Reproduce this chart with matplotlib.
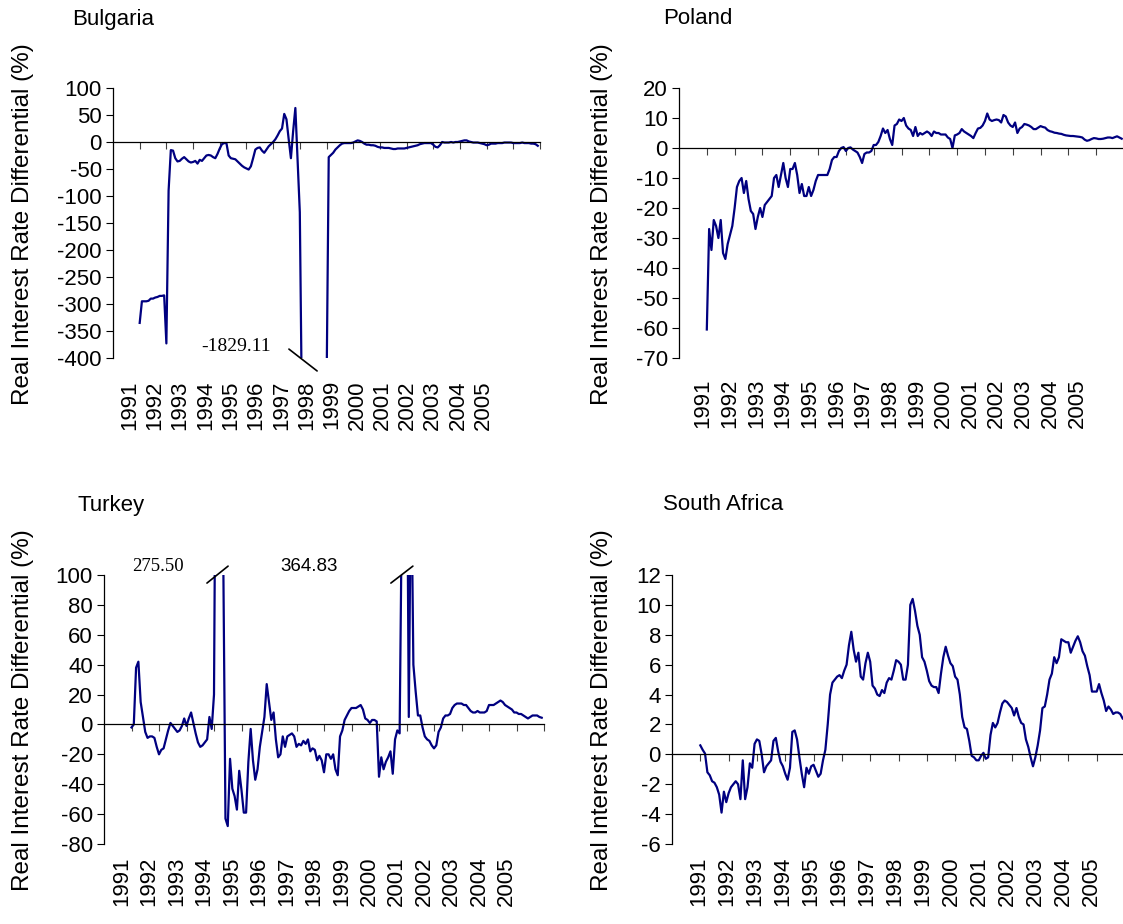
import numpy as np
import matplotlib
matplotlib.use("Agg")
import matplotlib.pyplot as plt

plt.rcParams['font.family'] = ['Liberation Sans', 'DejaVu Sans']
plt.rcParams['axes.unicode_minus'] = False

# ------------------------------------------------------------
# Monthly real interest rate differentials (%), Jan 1991 - Dec 2005
# ------------------------------------------------------------
years = list(range(1991, 2006))

bulgaria = [
    -335, -295, -295, -295, -294, -290, -290, -288, -287, -285, -285, -284,
    -373, -90, -15, -16, -30, -36, -35, -31, -28, -32, -36, -38,
    -37, -35, -40, -33, -35, -30, -25, -24, -25, -28, -30, -22,
    -12, -4, -2, -2, -25, -30, -31, -32, -36, -40, -44, -47,
    -49, -51, -45, -30, -14, -11, -10, -16, -20, -14, -8, -4,
    0, 5, 12, 20, 25, 52, 42, 5, -30, 20, 63, -35,
    -130, -520, -1829.11, -1400, -1100, -900, -780, -700, -640, -590, -550, -510,
    -470, -28, -24, -20, -14, -10, -6, -3, -2, -2, -2, -2,
    -1, 1, 3, 2, 0, -3, -5, -5, -6, -6, -7, -9,
    -10, -10, -11, -11, -11, -12, -13, -13, -12, -12, -12, -12,
    -11, -10, -9, -8, -7, -6, -4, -3, -2, -2, -2, -2,
    -5, -9, -10, -6, 0, -1, -1, -1, 0, -1, 0, 0,
    1, 2, 3, 3, 1, 0, -1, -1, -1, -2, -3, -4,
    -6, -5, -3, -3, -3, -2, -2, -2, -1, -1, -1, -1,
    -2, -2, -2, -2, -1, -2, -2, -2, -3, -3, -4, -7,
]

poland = [
    -60.5, -27, -34, -24, -26, -30, -24, -35, -37, -32, -29, -26,
    -20, -13, -11, -10, -15, -11, -17, -21, -22, -27, -23, -20,
    -23, -19, -18, -17, -16, -10, -9, -13, -9, -5, -10, -13,
    -7, -7, -5, -9, -15, -12, -16, -16, -13, -16, -14, -11,
    -9, -9, -9, -9, -9, -7, -4, -3, -3, -1, 0, 0.3,
    -1, 0, 0.2, -0.5, -1, -1.5, -3, -5, -2, -1.5, -1.5, -1,
    1, 1, 2, 4, 6.5, 5, 6, 3, 1, 7.5, 8, 9.5,
    9, 10, 7.5, 6.5, 6, 4, 7, 4, 5, 4.5, 5, 5.5,
    5, 4, 5.5, 5, 5, 4.5, 4.5, 4.5, 3.5, 3, 0, 4.2,
    4.5, 5, 6.3, 5.5, 5, 4.5, 4, 3.3, 5, 6.5, 6.7, 7.5,
    9, 11.5, 9.5, 9, 9.3, 9.5, 9.3, 8.5, 11, 10.5, 8.5, 7.5,
    7, 8.5, 5, 6.5, 7, 8, 7.8, 7.5, 7, 6.3, 6.3, 6.8,
    7.3, 7, 6.8, 6, 5.6, 5.4, 5.1, 5, 4.8, 4.7, 4.4, 4.2,
    4.1, 4, 4, 3.9, 3.8, 3.7, 3.5, 2.8, 2.4, 2.6, 3, 3.3,
    3.2, 3, 3, 3.1, 3.3, 3.5, 3.5, 3.3, 3.6, 3.9, 3.5, 3.1,
]

turkey = [
    -2, 0, 38, 42, 15, 5, -5, -9, -8, -8, -9, -15,
    -20, -17, -16, -10, -4, 1, -1, -3, -5, -4, -1, 4,
    -1, 4, 8, 1, -6, -12, -15, -14, -12, -10, 5, -3,
    20, 275.50, 200, 160, 120, -63, -68, -23, -43, -48, -57, -31,
    -44, -59, -59, -25, -3, -24, -37, -30, -15, -5, 5, 27,
    15, 3, 8, -10, -22, -20, -8, -15, -8, -7, -6, -8,
    -15, -13, -14, -11, -13, -10, -18, -16, -17, -24, -21, -24,
    -32, -20, -20, -23, -20, -30, -34, -8, -4, 3, 6, 9,
    11, 11, 11, 12, 13, 10, 4, 3, 1, 3, 3, 2,
    -35, -22, -30, -25, -22, -18, -33, -10, -4, -6, 150, 364.83,
    250, 5, 180, 40, 22, 6, 6, -2, -8, -10, -11, -14,
    -16, -14, -5, -2, 4, 6, 6, 7, 11, 13, 14, 14,
    14, 13, 13, 11, 9, 8, 8, 9, 8, 8, 8, 9,
    13, 13, 13, 14, 15, 16, 15, 13, 12, 11, 10, 8,
    8, 7, 7, 6, 5, 4, 5, 6, 6, 6, 5, 4.5,
]

south_africa = [
    0.6, 0.3, 0.05, -1.2, -1.4, -1.8, -1.9, -2.2, -2.7, -3.9, -2.5, -3.2,
    -2.6, -2.2, -2.0, -1.8, -2.0, -3.0, -0.4, -3.0, -2.2, -0.6, -0.9, 0.7,
    1.0, 0.9, 0.0, -1.2, -0.8, -0.6, -0.4, 0.9, 1.1, 0.2, -0.5, -0.8,
    -1.3, -1.7, -0.9, 1.5, 1.6, 1.0, -0.2, -1.3, -2.2, -0.9, -1.3, -0.8,
    -0.7, -1.1, -1.5, -1.3, -0.4, 0.3, 2.0, 4.0, 4.8, 5.0, 5.2, 5.3,
    5.1, 5.6, 6.0, 7.3, 8.2, 7.0, 6.2, 6.8, 5.2, 5.0, 6.1, 6.8,
    6.2, 4.6, 4.4, 4.0, 3.9, 4.3, 4.1, 4.8, 5.1, 5.0, 5.6, 6.3,
    6.2, 6.0, 5.0, 5.0, 6.0, 10.0, 10.4, 9.6, 8.6, 8.0, 6.5, 6.2,
    5.6, 4.9, 4.6, 4.5, 4.5, 4.1, 5.4, 6.5, 7.2, 6.6, 6.1, 5.9,
    5.2, 5.0, 4.0, 2.5, 1.8, 1.7, 0.9, -0.1, -0.2, -0.4, -0.4, -0.1,
    0.1, -0.3, -0.2, 1.3, 2.1, 1.8, 2.1, 2.8, 3.4, 3.6, 3.5, 3.3,
    3.1, 2.6, 3.1, 2.5, 2.1, 2.0, 1.0, 0.5, -0.2, -0.8, -0.2, 0.6,
    1.6, 3.1, 3.2, 4.0, 5.0, 5.4, 6.5, 6.1, 6.5, 7.7, 7.6, 7.5,
    7.5, 6.8, 7.2, 7.6, 7.9, 7.5, 6.9, 6.6, 5.9, 5.3, 4.2, 4.2,
    4.2, 4.7, 4.1, 3.6, 2.9, 3.2, 3.0, 2.7, 2.8, 2.8, 2.7, 2.4,
]

LINE_COLOR = '#000080'
YLABEL = 'Real Interest Rate Differential (%)'
W, H = 1123, 924


def px_box(left, top, right, bottom):
    return [left / W, 1 - bottom / H, (right - left) / W, (bottom - top) / H]


def draw_panel(ax, values, ylo, yhi, ystep, lab_start, lab_step, lab_pad):
    months = np.arange(len(values))
    ax.plot(months, values, color=LINE_COLOR, lw=1.6, solid_joinstyle='round')

    ax.set_xlim(-12, 180)
    ax.set_ylim(ylo, yhi)
    yt = np.arange(ylo, yhi + ystep / 2, ystep)
    ax.set_yticks(yt, labels=[f"{v:g}" for v in yt])
    ax.tick_params(axis='y', direction='out', length=5, width=0.8, pad=3,
                   labelsize=16, colors='black')

    # category axis crosses at zero, ticks mark year boundaries
    for s in ['top', 'right']:
        ax.spines[s].set_visible(False)
    ax.spines['bottom'].set_position(('data', 0))
    ax.spines['bottom'].set_linewidth(0.9)
    ax.spines['left'].set_linewidth(0.9)
    ax.set_xticks(np.arange(0, 181, 12))
    ax.tick_params(axis='x', direction='out', length=5, width=0.8,
                   color='#404040', labelbottom=False)

    # year labels sit under the plot area
    sec = ax.secondary_xaxis('bottom')
    sec.set_xticks([lab_start + i * lab_step for i in range(len(years))],
                   labels=[str(y) for y in years])
    sec.tick_params(length=0, pad=lab_pad, labelsize=16, labelrotation=90)
    sec.spines['bottom'].set_visible(False)


fig = plt.figure(figsize=(W / 100, H / 100), dpi=100)

ax_bg = fig.add_axes(px_box(113, 88, 540, 358))
ax_pl = fig.add_axes(px_box(679, 88, 1124, 358))
ax_tr = fig.add_axes(px_box(104, 575, 544, 844))
ax_sa = fig.add_axes(px_box(672, 575, 1125, 844))

draw_panel(ax_bg, bulgaria, -400, 100, 50, -4.5, 11.36, 16)
draw_panel(ax_pl, poland, -70, 20, 10, -1.7, 11.53, 15)
draw_panel(ax_tr, turkey, -80, 100, 20, -4.4, 12.0, 9)
draw_panel(ax_sa, south_africa, -6, 12, 2, -0.8, 11.9, 9)

# titles and axis titles
for (tx, ty, name) in [(72, 19, 'Bulgaria'), (663, 19, 'Poland'),
                       (77, 505, 'Turkey'), (663, 505, 'South Africa')]:
    fig.text(tx / W, 1 - ty / H, name, fontsize=16, ha='left', va='center')

for (lx, ly) in [(23, 224), (602, 224), (23, 710), (602, 710)]:
    fig.text(lx / W, 1 - ly / H, YLABEL, fontsize=17.5, rotation=90,
             ha='center', va='center')

# break marks for the values that run off the scale
brk = dict(arrowstyle='-', color='black', lw=1.2, shrinkA=0, shrinkB=0)
ax_bg.annotate('', xy=(0.478, -0.048), xytext=(0.412, 0.033),
               xycoords='axes fraction', arrowprops=brk, annotation_clip=False)
ax_bg.text(0.288, 0.041, '-1829.11', transform=ax_bg.transAxes, fontsize=14,
           family='Liberation Serif', ha='center', va='center')

ax_tr.annotate('', xy=(0.282, 1.033), xytext=(0.234, 0.970),
               xycoords='axes fraction', arrowprops=brk, annotation_clip=False)
ax_tr.text(0.123, 1.033, '275.50', transform=ax_tr.transAxes, fontsize=13.5,
           family='Liberation Serif', ha='center', va='center')
ax_tr.annotate('', xy=(0.702, 1.033), xytext=(0.652, 0.970),
               xycoords='axes fraction', arrowprops=brk, annotation_clip=False)
ax_tr.text(0.466, 1.033, '364.83', transform=ax_tr.transAxes, fontsize=13.5,
           ha='center', va='center')

plt.savefig('out.png', dpi=100)
